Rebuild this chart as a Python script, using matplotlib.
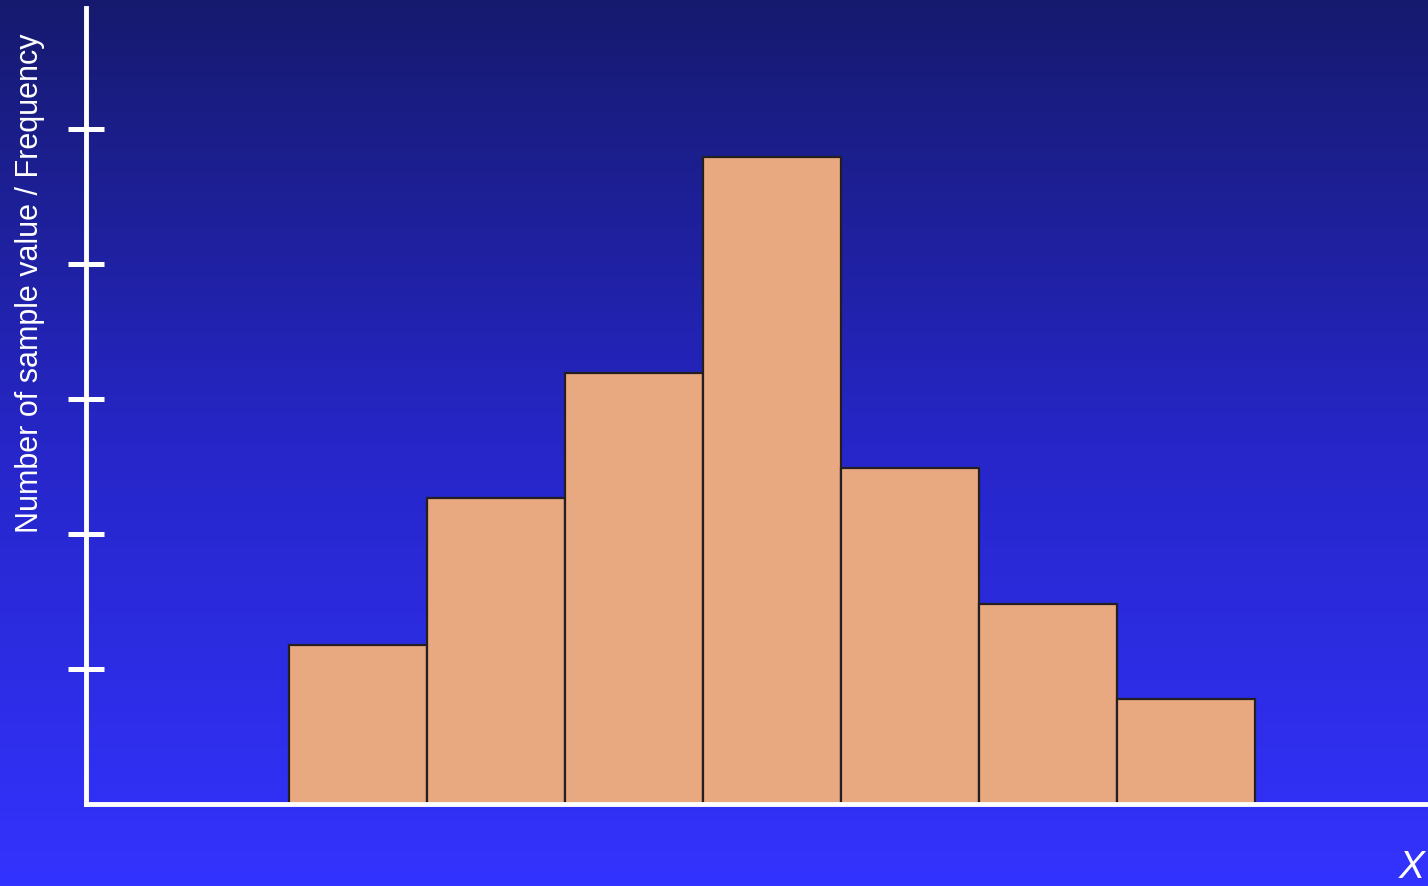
import numpy as np
import matplotlib.pyplot as plt
from matplotlib.colors import LinearSegmentedColormap

# histogram data (heights in tick units)
bin_edges = [0, 1, 2, 3, 4, 5, 6, 7]
frequencies = [1.18, 2.27, 3.19, 4.79, 2.49, 1.48, 0.78]
y_ticks = [1, 2, 3, 4, 5]

W, H = 1428, 886
fig = plt.figure(figsize=(W / 100, H / 100), dpi=100)

# gradient background
bg = fig.add_axes([0, 0, 1, 1], zorder=0)
cmap = LinearSegmentedColormap.from_list("bg", ["#3333ff", "#2626c8", "#161a6e"])
grad = np.linspace(0, 1, 256).reshape(-1, 1)
bg.imshow(grad, cmap=cmap, aspect="auto", origin="lower", extent=[0, 1, 0, 1])
bg.axis("off")

ax = fig.add_axes([86 / W, 82 / H, (W - 86) / W, (804 - 8) / H], zorder=1)
ax.patch.set_alpha(0)

ax.bar(bin_edges[:-1], frequencies, width=1, align="edge",
       color="#e8a880", edgecolor="#231f20", linewidth=1.6, zorder=2)

ax.set_xlim(-(289 - 86) / 138, (W - 289) / 138)
ax.set_ylim(0, (804 - 8) / 135)

for side in ["top", "right"]:
    ax.spines[side].set_visible(False)
for side in ["left", "bottom"]:
    ax.spines[side].set_color("white")
    ax.spines[side].set_linewidth(3.5)
    ax.spines[side].set_zorder(3)

ax.set_xticks([])
ax.set_yticks(y_ticks)
ax.set_yticklabels([])
ax.tick_params(axis="y", direction="inout", length=26, width=3.6, color="white")

fig.text(30 / W, 1 - 283 / H, "Number of sample value / Frequency",
         rotation=90, color="white", fontsize=22, family="Liberation Sans",
         ha="center", va="center")
fig.text(1412 / W, 1 - 868 / H, "X", color="white", fontsize=28,
         style="italic", family="Liberation Sans", ha="center", va="center")

fig.savefig("out.png", dpi=100)
